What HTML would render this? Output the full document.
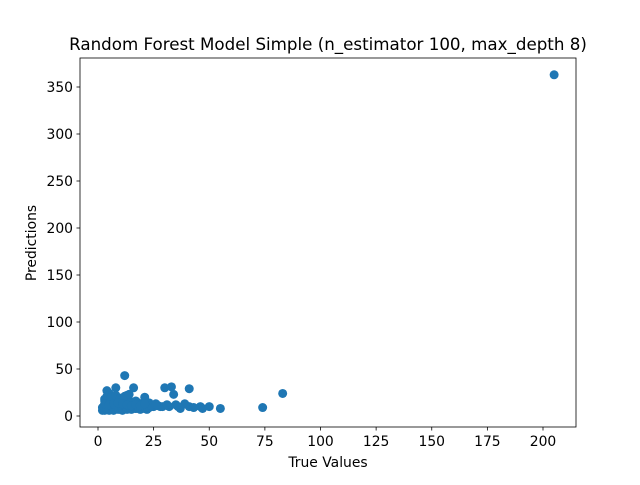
<!DOCTYPE html>
<html><head><meta charset="utf-8"><style>
body{margin:0;background:#fff;font-family:"Liberation Sans","DejaVu Sans",sans-serif}
svg text{font-family:"DejaVu Sans","Liberation Sans",sans-serif}
</style></head><body>
<svg width="640" height="480">
<rect width="640" height="480" fill="#fff"/>
<text x="328" y="50" font-size="16.7" text-anchor="middle">Random Forest Model Simple (n_estimator 100, max_depth 8)</text>
<g id="pts"></g>
<rect x="80" y="58" width="496" height="369" fill="none" stroke="#000" stroke-width="0.8"/>
<g id="xt"></g>
<g id="yt"></g>
<text x="328" y="467" font-size="13.9" text-anchor="middle">True Values</text>
<text x="0" y="0" font-size="13.9" text-anchor="middle" transform="translate(36,243) rotate(-90)">Predictions</text>
</svg>
<script>
const trueVals=[205,83,74,55,50,47,46,41,41,39,37,34,33,30,35,32,29,26,25,22,21,12,8,4,16,5,13,10,3,3,4,5,6,7,8,9,10,11,12,13,14,15,16,17,18,19,20,22,24,2,3,5,6,7,9,11,13,15,17,19,21,23,27,28,3,4,6,8,10,12,14,16,18,20,3,5,7,9,11,13,15,17,4,6,8,10,12,14,2.5,3,7,11,15,19,23,26,31,36,43,2,4,6,8,10,12,14,16,18,20,22,24,26,3,5,7,9,11,13,15,17,19,21];
const predVals=[363,24,9,8,10,8,10,10,29,13,8,23,31,30,12,10,10,12,10,12,20,43,30,27,30,24,22,18,8,12,14,10,9,8,9,8,7,9,10,8,9,10,9,8,9,10,9,7,10,6,6,6,7,6,7,6,7,7,8,7,8,9,11,10,16,15,14,13,12,14,15,13,14,12,18,17,18,16,17,18,15,16,21,20,22,19,21,23,8,11,11,12,11,12,14,13,12,10,9,9,8,10,11,12,11,10,11,10,11,10,11,12,13,12,13,14,13,12,11,12,11,13];
const xTicks=[0,25,50,75,100,125,150,175,200];
const yTicks=[0,50,100,150,200,250,300,350];
const X=v=>98+v*2.225, Y=v=>416-v*0.94;
const ns="http://www.w3.org/2000/svg";
const g=document.getElementById('pts');
trueVals.forEach((t,i)=>{const c=document.createElementNS(ns,'circle');
c.setAttribute('cx',X(t));c.setAttribute('cy',Y(predVals[i]));c.setAttribute('r',4.5);c.setAttribute('fill','#1f77b4');


g.appendChild(c);});
const xt=document.getElementById('xt');
xTicks.forEach(v=>{const l=document.createElementNS(ns,'line');l.setAttribute('x1',X(v));l.setAttribute('x2',X(v));l.setAttribute('y1',427);l.setAttribute('y2',430.5);l.setAttribute('stroke','#000');l.setAttribute('stroke-width','0.8');xt.appendChild(l);
const t=document.createElementNS(ns,'text');t.setAttribute('x',X(v));t.setAttribute('y',446);t.setAttribute('font-size','13.9');t.setAttribute('text-anchor','middle');t.textContent=v;


xt.appendChild(t);});
const yt=document.getElementById('yt');
yTicks.forEach(v=>{const l=document.createElementNS(ns,'line');l.setAttribute('x1',76.5);l.setAttribute('x2',80);l.setAttribute('y1',Y(v));l.setAttribute('y2',Y(v));l.setAttribute('stroke','#000');l.setAttribute('stroke-width','0.8');yt.appendChild(l);
const t=document.createElementNS(ns,'text');t.setAttribute('x',73);t.setAttribute('y',Y(v)+5);t.setAttribute('font-size','13.9');t.setAttribute('text-anchor','end');t.textContent=v;


yt.appendChild(t);});
</script>
</body></html>
